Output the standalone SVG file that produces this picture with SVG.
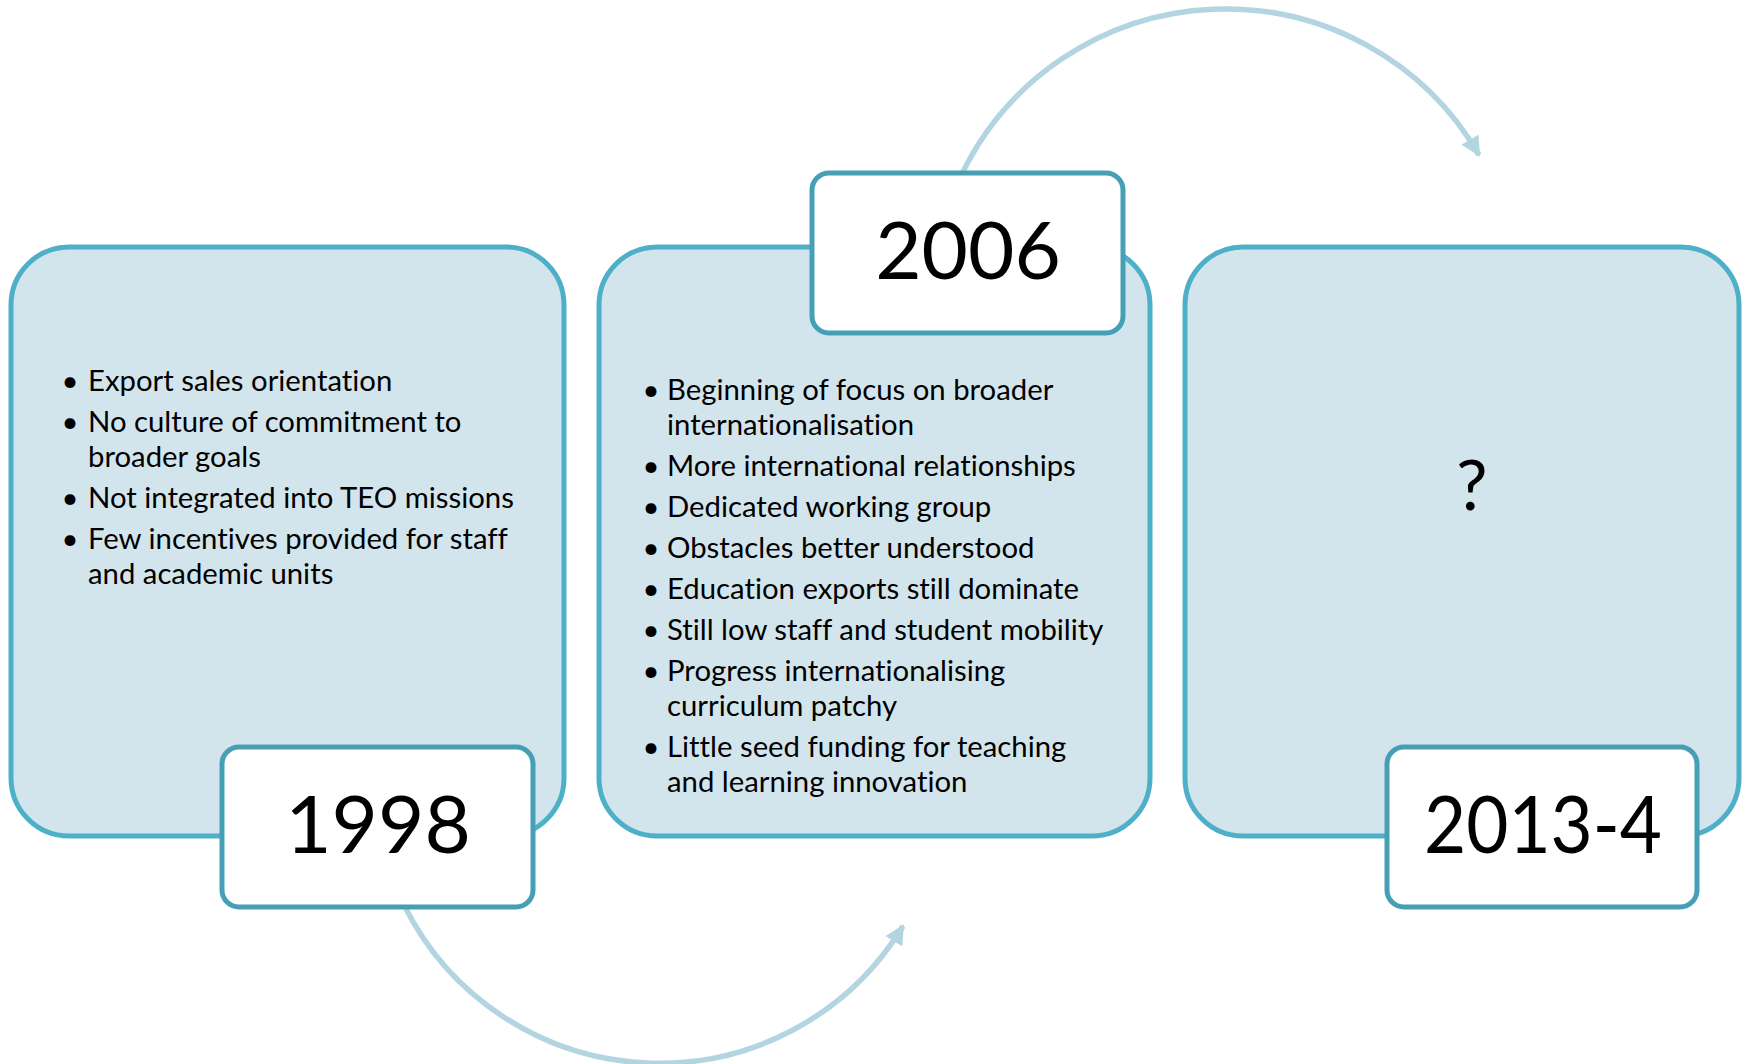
<svg xmlns="http://www.w3.org/2000/svg" width="1748" height="1064" viewBox="0 0 1748 1064">
<defs>
<style>
.box{fill:#D3E5EC;stroke:#4EAFC8;stroke-width:5}
.lbl{fill:#FFFFFF;stroke:#479FB6;stroke-width:5}
.t{font-family:Lato,"Liberation Sans",sans-serif;font-size:29.3px;fill:#000;font-variant-ligatures:none}
.b{font-family:Lato,"Liberation Sans",sans-serif;font-size:29.3px;fill:#000;text-anchor:middle}
.yr{font-family:Lato,"Liberation Sans",sans-serif;font-size:80px;fill:#000;text-anchor:middle}
.arc{fill:none;stroke:#B3D5E1;stroke-width:5.5}
</style>
<marker id="ah" viewBox="0 0 10 10" refX="9" refY="5" markerWidth="3.6" markerHeight="3.6" orient="auto" markerUnits="strokeWidth">
<path d="M0,0 L10,5 L0,10 Z" fill="#B3D5E1"/>
</marker>
</defs>
<rect width="1748" height="1064" fill="#FFFFFF"/>
<g id="connectors">
<path class="arc" d="M404,905 A285,285 0 0 0 903,926" marker-end="url(#ah)"/>
<path class="arc" d="M960,178 A293,293 0 0 1 1479,155" marker-end="url(#ah)"/>
</g>
<g id="node-1998">
<rect class="box" x="11" y="247" width="553" height="589" rx="58" ry="58"/>
<text class="b" x="70" y="391">•</text><text class="t" x="88" y="391">Export sales orientation</text>
<text class="b" x="70" y="432">•</text><text class="t" x="88" y="432">No culture of commitment to</text>
<text class="t" x="88" y="467">broader goals</text>
<text class="b" x="70" y="508">•</text><text class="t" x="88" y="508">Not integrated into TEO missions</text>
<text class="b" x="70" y="549">•</text><text class="t" x="88" y="549">Few incentives provided for staff</text>
<text class="t" x="88" y="584">and academic units</text>
<rect class="lbl" x="222" y="747" width="311" height="160" rx="17" ry="17"/>
<text class="yr" x="378" y="853">1998</text>
</g>
<g id="node-2006">
<rect class="box" x="599" y="247" width="551" height="589" rx="58" ry="58"/>
<text class="b" x="651" y="400">•</text><text class="t" x="667" y="400">Beginning of focus on broader</text>
<text class="t" x="667" y="435">internationalisation</text>
<text class="b" x="651" y="476">•</text><text class="t" x="667" y="476">More international relationships</text>
<text class="b" x="651" y="517">•</text><text class="t" x="667" y="517">Dedicated working group</text>
<text class="b" x="651" y="558">•</text><text class="t" x="667" y="558">Obstacles better understood</text>
<text class="b" x="651" y="599">•</text><text class="t" x="667" y="599">Education exports still dominate</text>
<text class="b" x="651" y="640">•</text><text class="t" x="667" y="640">Still low staff and student mobility</text>
<text class="b" x="651" y="681">•</text><text class="t" x="667" y="681">Progress internationalising</text>
<text class="t" x="667" y="716">curriculum patchy</text>
<text class="b" x="651" y="757">•</text><text class="t" x="667" y="757">Little seed funding for teaching</text>
<text class="t" x="667" y="792">and learning innovation</text>
<rect class="lbl" x="812" y="173" width="311" height="160" rx="17" ry="17"/>
<text class="yr" x="968" y="279">2006</text>
</g>
<g id="node-2013">
<rect class="box" x="1185" y="247" width="554" height="589" rx="58" ry="58"/>
<text class="yr" x="1472" y="510" style="font-size:70px">?</text>
<rect class="lbl" x="1387" y="747" width="310" height="160" rx="17" ry="17"/>
<text class="yr" x="1543" y="853" style="font-size:79px" textLength="238" lengthAdjust="spacingAndGlyphs">2013-4</text>
</g>
</svg>
